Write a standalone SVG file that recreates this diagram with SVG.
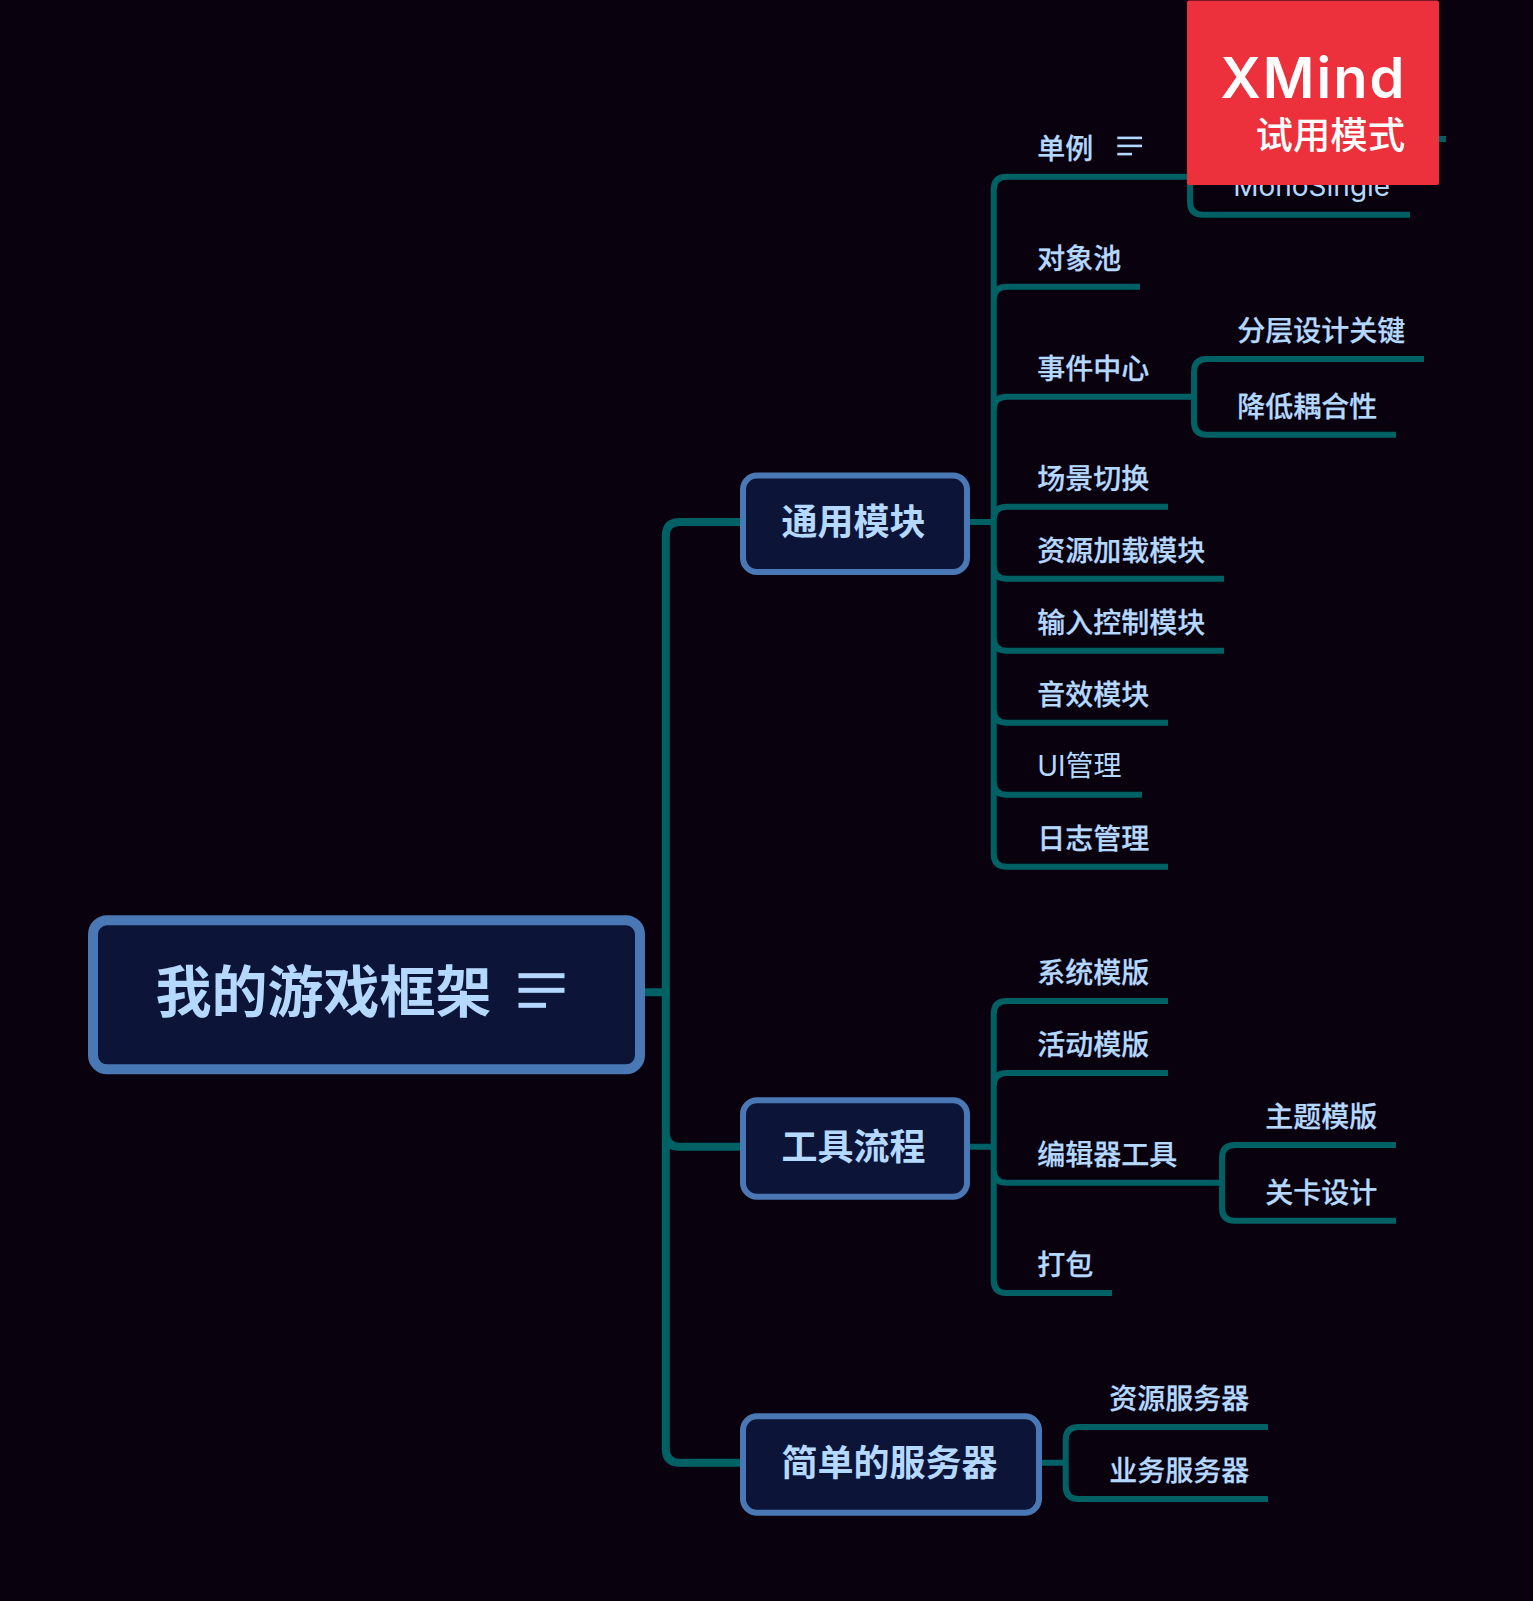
<svg xmlns="http://www.w3.org/2000/svg" width="1533" height="1601" viewBox="0 0 1533 1601">
<style>
text{font-family:"Noto Sans CJK SC","Noto Sans",sans-serif;fill:#b5d8ff}
.t{font-size:28px;font-weight:500;stroke:#b5d8ff;stroke-width:.25}
.l{font-family:Inter,"Noto Sans CJK SC",sans-serif;font-weight:400;stroke-width:0}
.b{font-size:36px;font-weight:700}
.c{fill:none;stroke:#006165}
.c1{stroke-width:8}
.c2{stroke-width:6}
.n{fill:#0c1538;stroke:#4a78b5;stroke-width:6}
.i{fill:#b5d8ff}
</style>
<rect width="1533" height="1601" fill="#09010e"/>
<g id="connectors">
<path class="c c1" d="M645 992.3H665.8M665.8 992.3V536Q665.8 522 679.8 522H740M665.8 992.3V1132.7Q665.8 1146.7 679.8 1146.7H740M665.8 992.3V1448.7Q665.8 1462.7 679.8 1462.7H740"/>
<path class="c c2" d="M970 522H993.7M993.7 522V189.7Q993.7 176.7 1006.7 176.7H1190M993.7 522V299.7Q993.7 286.7 1006.7 286.7H1140M993.7 522V409.7Q993.7 396.7 1006.7 396.7H1194M993.7 522V519.7Q993.7 506.7 1006.7 506.7H1168M993.7 522V565.7Q993.7 578.7 1006.7 578.7H1224M993.7 522V637.7Q993.7 650.7 1006.7 650.7H1224M993.7 522V709.7Q993.7 722.7 1006.7 722.7H1168M993.7 522V781.7Q993.7 794.7 1006.7 794.7H1142M993.7 522V853.7Q993.7 866.7 1006.7 866.7H1168"/>
<path class="c c2" d="M1190 176.7V152Q1190 139 1203 139H1446M1190 176.7V201.7Q1190 214.7 1203 214.7H1410"/>
<path class="c c2" d="M1194 396.7V372Q1194 359 1207 359H1424M1194 396.7V421.7Q1194 434.7 1207 434.7H1396"/>
<path class="c c2" d="M970 1146.7H993.7M993.7 1146.7V1014Q993.7 1001 1006.7 1001H1168M993.7 1146.7V1086Q993.7 1073 1006.7 1073H1168M993.7 1146.7V1169.7Q993.7 1182.7 1006.7 1182.7H1222M993.7 1146.7V1280Q993.7 1293 1006.7 1293H1112"/>
<path class="c c2" d="M1222 1182.7V1158Q1222 1145 1235 1145H1396M1222 1182.7V1207.7Q1222 1220.7 1235 1220.7H1396"/>
<path class="c c2" d="M1042 1462.7H1065.7M1065.7 1462.7V1440Q1065.7 1427 1078.7 1427H1268M1065.7 1462.7V1486Q1065.7 1499 1078.7 1499H1268"/>
</g>
<g id="root">
<rect x="93" y="920.3" width="547" height="149" rx="14" fill="#0c1538" stroke="#4a78b5" stroke-width="10"/>
<text x="155.5" y="1012" font-size="56" font-weight="700">我的游戏框架</text>
<rect class="i" x="518.5" y="973.2" width="46" height="5"/>
<rect class="i" x="518.5" y="987.8" width="46" height="5"/>
<rect class="i" x="518.5" y="1002.8" width="27.5" height="5"/>
</g>
<g id="n-general"><rect class="n" x="743" y="475.5" width="224" height="96.4" rx="14"/><text class="b" x="781.5" y="534.8">通用模块</text></g>
<g id="n-tools"><rect class="n" x="743" y="1100.3" width="224" height="96.4" rx="14"/><text class="b" x="781.5" y="1160">工具流程</text></g>
<g id="n-server"><rect class="n" x="743" y="1416.3" width="296" height="96.4" rx="14"/><text class="b" x="781.5" y="1475.5">简单的服务器</text></g>
<g id="n-singleton"><text class="t" x="1037.2" y="159.2">单例</text>
<rect class="i" x="1117.3" y="136.6" width="24.7" height="2.6"/><rect class="i" x="1117.3" y="144.6" width="24.7" height="2.6"/><rect class="i" x="1117.3" y="152.8" width="14.7" height="2.6"/></g>
<g id="n-monosingle"><text class="t l" x="1233.2" y="196.3">MonoSingle</text></g>
<g id="n-pool"><text class="t" x="1037.2" y="269.2">对象池</text></g>
<g id="n-event"><text class="t" x="1037.2" y="379.2">事件中心</text></g>
<g id="n-layer"><text class="t" x="1237.2" y="340.6">分层设计关键</text></g>
<g id="n-couple"><text class="t" x="1237.2" y="417.2">降低耦合性</text></g>
<g id="n-scene"><text class="t" x="1037.2" y="489.2">场景切换</text></g>
<g id="n-res"><text class="t" x="1037.2" y="561.2">资源加载模块</text></g>
<g id="n-input"><text class="t" x="1037.2" y="633.2">输入控制模块</text></g>
<g id="n-audio"><text class="t" x="1037.2" y="705.2">音效模块</text></g>
<g id="n-ui"><text class="t l" x="1037.2" y="776.3">UI管理</text></g>
<g id="n-log"><text class="t" x="1037.2" y="849.2">日志管理</text></g>
<g id="n-sys"><text class="t" x="1037.2" y="982.6">系统模版</text></g>
<g id="n-act"><text class="t" x="1037.2" y="1054.6">活动模版</text></g>
<g id="n-editor"><text class="t" x="1037.2" y="1165.2">编辑器工具</text></g>
<g id="n-theme"><text class="t" x="1265.3" y="1126.6">主题模版</text></g>
<g id="n-level"><text class="t" x="1265.3" y="1203.2">关卡设计</text></g>
<g id="n-pack"><text class="t" x="1037.2" y="1274.6">打包</text></g>
<g id="n-ressrv"><text class="t" x="1109.3" y="1408.6">资源服务器</text></g>
<g id="n-biz"><text class="t" x="1109.3" y="1480.6">业务服务器</text></g>
<g id="watermark">
<rect x="1187" y="0.5" width="252" height="184.5" rx="2" fill="#ec313d"/>
<text x="1220.5" y="97.5" font-size="56" font-weight="600" textLength="184" style="font-family:Inter,'Open Sans',sans-serif;fill:#fff">XMind</text>
<text x="1255.5" y="148.6" font-size="37.4" font-weight="500" style="fill:#fff">试用模式</text>
</g>
</svg>
